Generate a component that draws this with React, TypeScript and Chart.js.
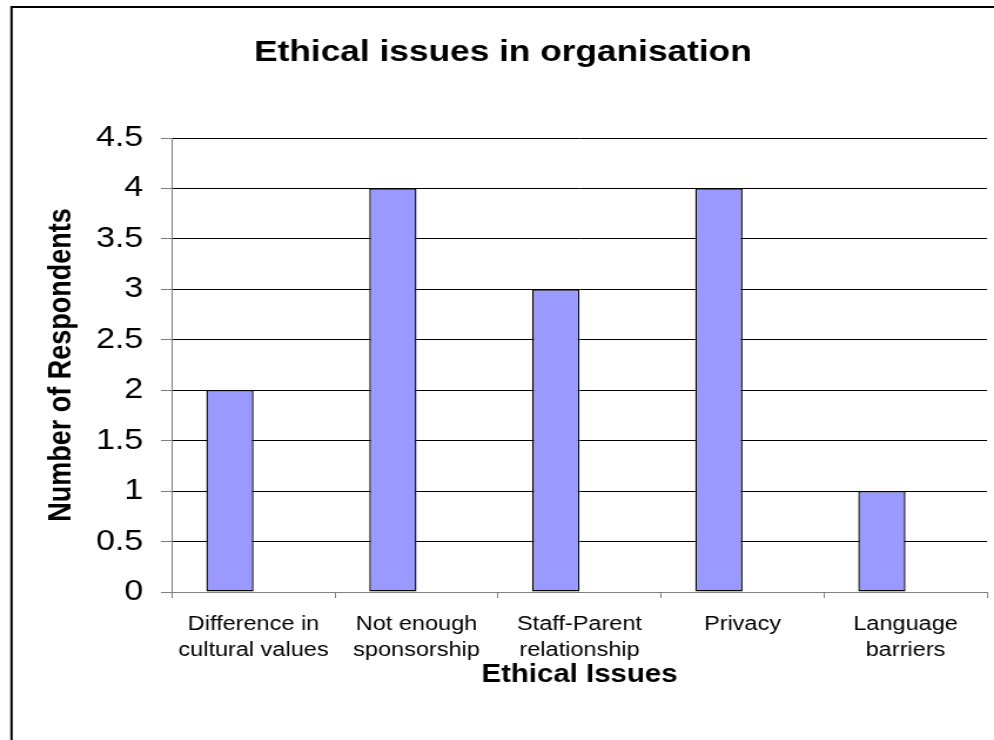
import React, { useEffect, useRef } from "react";
import { Chart, registerables } from "chart.js";

Chart.register(...registerables);

const categories: string[][] = [
  ["Difference in", "cultural values"],
  ["Not enough", "sponsorship"],
  ["Staff-Parent", "relationship"],
  ["Privacy"],
  ["Language", "barriers"],
];
const respondents: number[] = [2, 4, 3, 4, 1];
const emptySeries: (number | null)[] = [null, null, null, null, null];
const chartTitle = "Ethical issues in organisation";
const xTitle = "Ethical Issues";
const yTitle = "Number of Respondents";
const yMin = 0;
const yMax = 4.5;
const yStep = 0.5;

const FONT = "'Liberation Sans', Arial, sans-serif";
// the picture is drawn narrower and stretched horizontally, like the original
const STRETCH = 1.175;
const CANVAS_W = Math.round(994 / STRETCH);
const CANVAS_H = 740;

const framePlugin = {
  id: "frameAndTitle",
  beforeDraw(chart: any) {
    const ctx = chart.ctx;
    ctx.save();
    ctx.fillStyle = "#ffffff";
    ctx.fillRect(0, 0, chart.width, chart.height);
    ctx.restore();
  },
  afterDraw(chart: any) {
    const ctx = chart.ctx;
    ctx.save();
    ctx.strokeStyle = "#000000";
    ctx.lineWidth = 2;
    ctx.beginPath();
    ctx.moveTo(9.8, chart.height + 2);
    ctx.lineTo(9.8, 7);
    ctx.lineTo(chart.width + 2, 7);
    ctx.stroke();
    ctx.fillStyle = "#000000";
    ctx.font = `bold 30px ${FONT}`;
    ctx.textAlign = "center";
    ctx.textBaseline = "middle";
    ctx.fillText(chartTitle, 428, 53);
    ctx.restore();
  },
};

export default function App() {
  const ref = useRef<HTMLCanvasElement | null>(null);
  useEffect(() => {
    if (!ref.current) return;
    const chart = new Chart(ref.current, {
      type: "bar",
      data: {
        labels: categories,
        datasets: [
          {
            label: "Respondents",
            data: respondents,
            backgroundColor: "#9999FF",
            borderColor: "#000000",
            borderWidth: 1.4,
            borderSkipped: false,
            categoryPercentage: 0.58,
            barPercentage: 1.0,
          },
          {
            label: "",
            data: emptySeries,
            backgroundColor: "#9999FF",
            categoryPercentage: 0.58,
            barPercentage: 1.0,
          },
        ],
      },
      options: {
        responsive: false,
        animation: false,
        devicePixelRatio: 1,
        layout: { padding: { top: 138, left: 0, right: CANVAS_W - 840, bottom: 0 } },
        plugins: {
          legend: { display: false },
          tooltip: { enabled: false },
          title: { display: false },
        },
        scales: {
          x: {
            afterFit: (s: any) => {
              s.height = 148;
            },
            grid: {
              offset: true,
              drawOnChartArea: false,
              color: "#808080",
              tickLength: 6,
            },
            border: { color: "#808080", width: 1 },
            ticks: {
              color: "#000000",
              font: { family: FONT, size: 20, lineHeight: 1.3 },
              padding: 13,
              maxRotation: 0,
              autoSkip: false,
            },
            title: {
              display: true,
              text: xTitle,
              color: "#000000",
              font: { family: FONT, size: 25, weight: "bold", lineHeight: 1.2 },
              padding: { top: 0, bottom: 50 },
            },
          },
          y: {
            min: yMin,
            max: yMax,
            afterFit: (s: any) => {
              s.width = 146.4;
            },
            grid: {
              color: "#000000",
              tickColor: "#808080",
              tickLength: 9.4,
              lineWidth: 1,
            },
            border: { color: "#808080", width: 1 },
            ticks: {
              stepSize: yStep,
              color: "#000000",
              font: { family: FONT, size: 29 },
              padding: 15,
              callback: (v: any) => String(Number(v)),
            },
            title: {
              display: true,
              text: yTitle,
              color: "#000000",
              font: { family: FONT, size: 27, weight: "bold", lineHeight: 1.2 },
              padding: { top: 36.6, bottom: 0 },
            },
          },
        },
      },
      plugins: [framePlugin],
    });
    return () => chart.destroy();
  }, []);
  return (
    <div
      style={{
        position: "absolute",
        left: 0,
        top: 0,
        width: CANVAS_W,
        height: CANVAS_H,
        transform: `scaleX(${STRETCH})`,
        transformOrigin: "0 0",
      }}
    >
      <canvas ref={ref} width={CANVAS_W} height={CANVAS_H} style={{ display: "block" }} />
    </div>
  );
}
